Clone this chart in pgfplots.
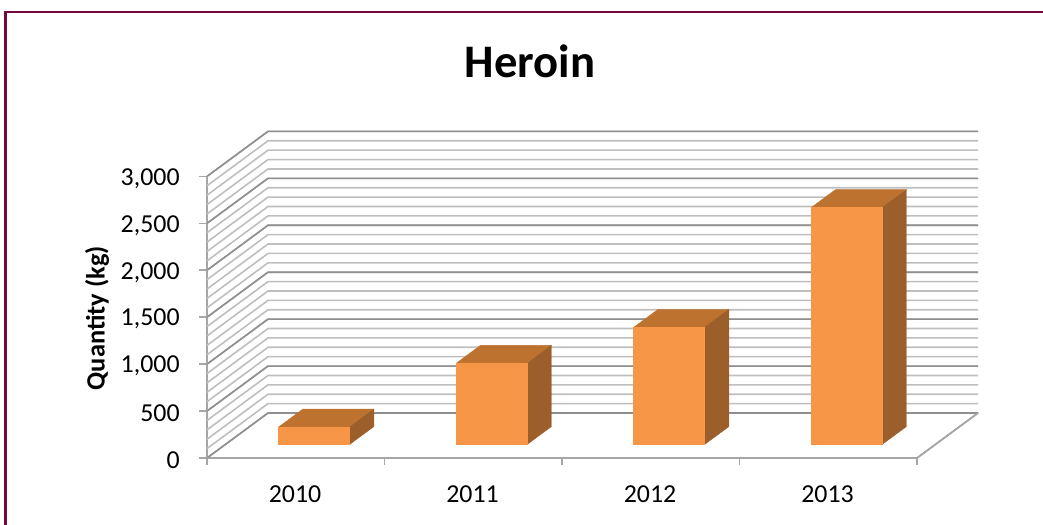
\documentclass[border=0pt]{standalone}
\usepackage{fontspec}
\setmainfont{Carlito}
\usepackage{pgfplots}
\pgfplotsset{compat=1.18}

\definecolor{barfront}{HTML}{F79646}
\definecolor{bartop}{HTML}{BE7230}
\definecolor{barside}{HTML}{9C5F2B}
\definecolor{gridmajor}{HTML}{8F8F8F}
\definecolor{gridminor}{HTML}{BEBEBE}
\definecolor{axisgrey}{HTML}{A6A6A6}
\definecolor{framecol}{HTML}{75083F}

% one 3D column: left x, right x, value
\newcommand{\column}[3]{%
  \addplot3[no marks,draw=bartop,line width=0.3pt,fill=bartop] coordinates {(#1,0.3,#3)(#2,0.3,#3)(#2,0.7,#3)(#1,0.7,#3)(#1,0.3,#3)};
  \addplot3[no marks,draw=barside,line width=0.3pt,fill=barside] coordinates {(#2,0.3,0)(#2,0.7,0)(#2,0.7,#3)(#2,0.3,#3)(#2,0.3,0)};
  \addplot3[no marks,draw=barfront,line width=0.3pt,fill=barfront] coordinates {(#1,0.3,0)(#2,0.3,0)(#2,0.3,#3)(#1,0.3,#3)(#1,0.3,0)};
}

\begin{document}
\begin{tikzpicture}
\path[use as bounding box] (0,0) rectangle (782.25pt,-393.75pt);
\draw[framecol,line width=1.9pt] (4.3pt,-393.75pt) -- (4.3pt,-9pt) -- (782.25pt,-9pt);
\begin{axis}[
  at={(155.25pt,-343.5pt)},
  anchor=origin,
  x={(133.125pt,0pt)},
  y={(45.75pt,33.75pt)},
  z={(0pt,0.0704pt)},
  xmin=0, xmax=4,
  ymin=0, ymax=1,
  zmin=0, zmax=3000,
  clip=false,
  axis lines*=left,
  axis line style={axisgrey,line width=1.2pt,-},
  major tick length=0pt,
  xtick={0.5,1.5,2.5,3.5},
  xticklabels={2010,2011,2012,2013},
  ytick=\empty,
  ztick={0,500,1000,1500,2000,2500,3000},
  /pgf/number format/assume math mode=true,
  /pgf/number format/1000 sep={,},
  tick label style={font=\fontsize{19.4}{22}\selectfont,text=black},
  xticklabel style={anchor=center,xshift=-0.5pt,yshift=-27.5pt},
  zticklabel style={anchor=east,xshift=-17pt,yshift=-1.5pt},
  title={Heroin},
  title style={at={(axis cs:1.82,0,3965)},anchor=base,font=\fontsize{35}{40}\selectfont\bfseries},
  zlabel={Quantity (kg)},
  zlabel style={at={(axis cs:-0.62,0,1489)},anchor=center,rotate=0,font=\fontsize{19.8}{22}\selectfont\bfseries},
]
\pgfplotsinvokeforeach{0,100,...,3000}{
  \addplot3[no marks,gridminor,line width=1.2pt] coordinates {(0,0,#1)(0,1,#1)(4,1,#1)};
}
\pgfplotsinvokeforeach{0,500,...,3000}{
  \addplot3[no marks,gridmajor,line width=1.2pt] coordinates {(0,0,#1)(0,1,#1)(4,1,#1)};
}
\addplot3[no marks,axisgrey,line width=1.2pt] coordinates {(4,0,0)(4,1,0)};
% tick marks, horizontal and vertical
\pgfplotsinvokeforeach{0,500,...,3000}{
  \addplot3[no marks,axisgrey,line width=1.2pt] coordinates {(-0.045,0,#1)(0,0,#1)};
}
\pgfplotsinvokeforeach{0,1,2,3,4}{
  \addplot3[no marks,axisgrey,line width=1.2pt] coordinates {(#1,0,0)(#1,0,-75)};
}
\column{0.3}{0.7}{186}
\column{1.3}{1.7}{864}
\column{2.3}{2.7}{1247}
\column{3.3}{3.7}{2523}
\end{axis}
\end{tikzpicture}
\end{document}
